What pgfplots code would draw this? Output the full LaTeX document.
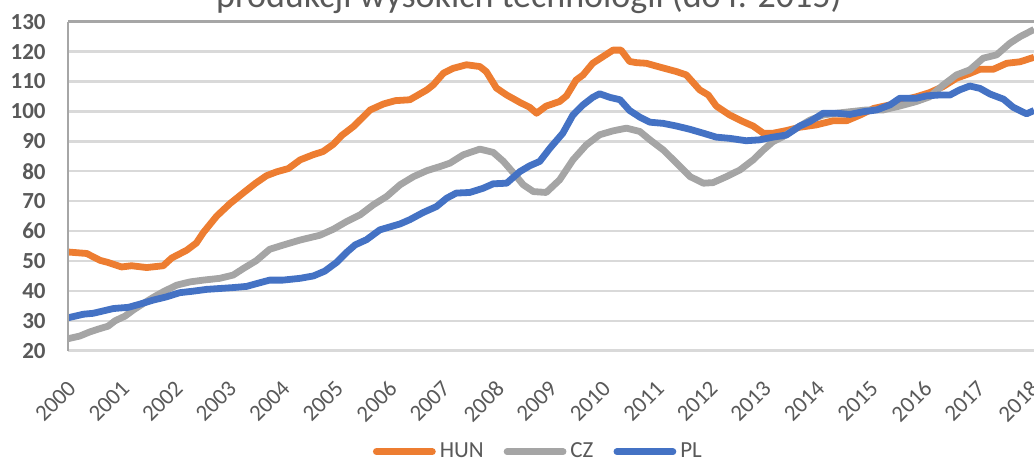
\documentclass[border=0pt]{standalone}
\usepackage{fontspec}
\setmainfont{Carlito}
\usepackage{pgfplots}
\pgfplotsset{compat=1.18}
\definecolor{hun}{HTML}{ED7D31}
\definecolor{cz}{HTML}{A5A5A5}
\definecolor{pl}{HTML}{4472C4}
\definecolor{txt}{HTML}{595959}
\definecolor{grd}{HTML}{D9D9D9}
\definecolor{axl}{HTML}{A6A6A6}
\begin{document}
\begin{tikzpicture}
\begin{axis}[
  at={(0,0)}, anchor=south west,
  scale only axis,
  width=483pt, height=164.5pt,
  xmin=2000, xmax=2018.06,
  ymin=20, ymax=130,
  ytick={20,30,...,130},
  xtick={2000,2001,...,2018},
  axis line style={draw=none},
  tick style={draw=none},
  ymajorgrids,
  grid style={color=grd, line width=1.2pt},
  /pgf/number format/assume math mode=true,
  /pgf/number format/1000 sep={},
  yticklabel style={font=\fontsize{11.5}{13}\selectfont\bfseries, text=txt, inner sep=0pt, anchor=east, xshift=-11pt},
  xticklabel style={font=\fontsize{11.5}{13}\selectfont, text=txt, xshift=-0.75pt, yshift=-14pt, rotate=45, anchor=north east, inner sep=0pt},
  legend columns=3,
  legend style={at={(0.488,-0.307)}, anchor=center, draw=none, fill=none,
    font=\fontsize{11.5}{13}\selectfont, text=txt,
    /tikz/every even column/.append style={column sep=8pt},
    inner sep=0pt},
  legend cell align=left,
  legend image code/.code={\draw[#1, line cap=round] (0pt,0pt) -- (28pt,0pt);},
  every axis plot/.append style={line width=3.4pt, line join=round},
]
\addplot[hun] coordinates {(2000.00,53.0) (2000.35,52.5) (2000.60,50.2) (2000.75,49.5) (2001.00,48.0) (2001.19,48.4) (2001.47,47.8) (2001.78,48.4) (2001.94,51.0) (2002.22,53.6) (2002.40,56.0) (2002.53,59.5) (2002.78,65.0) (2003.03,69.2) (2003.28,72.8) (2003.50,75.9) (2003.71,78.5) (2003.90,79.8) (2004.12,80.9) (2004.34,83.8) (2004.58,85.5) (2004.77,86.6) (2004.96,89.0) (2005.12,92.0) (2005.34,95.0) (2005.65,100.5) (2005.90,102.5) (2006.12,103.6) (2006.39,103.9) (2006.71,107.2) (2006.83,108.9) (2007.02,112.8) (2007.20,114.4) (2007.45,115.6) (2007.70,115.0) (2007.82,113.3) (2008.01,107.8) (2008.20,105.5) (2008.45,103.0) (2008.63,101.4) (2008.76,99.4) (2008.94,101.8) (2009.19,103.3) (2009.32,105.2) (2009.50,110.5) (2009.63,112.2) (2009.81,116.1) (2010.00,118.3) (2010.19,120.5) (2010.34,120.5) (2010.50,116.7) (2010.63,116.3) (2010.81,116.1) (2011.07,114.8) (2011.38,113.3) (2011.56,112.2) (2011.81,107.2) (2011.97,105.5) (2012.12,101.8) (2012.37,98.8) (2012.62,96.6) (2012.81,95.1) (2013.00,92.7) (2013.18,92.7) (2013.43,93.6) (2013.68,94.7) (2013.99,95.5) (2014.31,96.9) (2014.56,96.9) (2014.81,98.8) (2015.06,101.0) (2015.37,102.2) (2015.61,103.8) (2015.86,104.9) (2016.11,106.3) (2016.36,108.3) (2016.61,111.1) (2016.86,112.7) (2017.05,114.1) (2017.30,114.1) (2017.55,116.1) (2017.80,116.6) (2018.06,118.1)};
\addlegendentry{HUN}
\addplot[cz] coordinates {(2000.00,24.0) (2000.22,24.9) (2000.41,26.3) (2000.60,27.4) (2000.75,28.2) (2000.88,30.0) (2001.07,31.6) (2001.22,33.6) (2001.41,35.8) (2001.59,37.8) (2001.78,39.7) (2002.03,41.9) (2002.28,43.0) (2002.53,43.6) (2002.84,44.2) (2003.09,45.3) (2003.28,47.5) (2003.52,50.1) (2003.77,53.9) (2004.02,55.3) (2004.34,57.0) (2004.71,58.6) (2004.96,60.6) (2005.21,63.2) (2005.46,65.4) (2005.71,68.8) (2005.96,71.6) (2006.21,75.5) (2006.46,78.2) (2006.71,80.2) (2006.96,81.6) (2007.14,82.7) (2007.39,85.5) (2007.70,87.4) (2007.95,86.3) (2008.14,83.3) (2008.33,79.4) (2008.51,75.5) (2008.70,73.2) (2008.94,72.9) (2009.19,77.1) (2009.44,83.8) (2009.69,88.8) (2009.94,92.2) (2010.19,93.5) (2010.44,94.4) (2010.69,93.3) (2010.88,90.5) (2011.13,87.1) (2011.38,82.7) (2011.63,78.2) (2011.88,76.0) (2012.06,76.2) (2012.31,78.2) (2012.56,80.4) (2012.81,83.8) (2013.00,87.1) (2013.18,89.9) (2013.37,91.6) (2013.62,94.4) (2013.87,97.1) (2014.12,98.8) (2014.37,99.4) (2014.62,99.9) (2014.93,100.5) (2015.24,100.5) (2015.55,101.8) (2015.86,103.3) (2016.11,104.9) (2016.36,108.8) (2016.61,112.2) (2016.86,113.9) (2017.11,117.8) (2017.36,118.9) (2017.61,122.8) (2017.80,125.0) (2018.06,127.4)};
\addlegendentry{CZ}
\addplot[pl] coordinates {(2000.00,31.0) (2000.29,32.2) (2000.47,32.5) (2000.66,33.3) (2000.85,34.1) (2001.13,34.5) (2001.35,35.6) (2001.59,36.9) (2001.84,38.0) (2002.09,39.4) (2002.34,39.9) (2002.59,40.5) (2002.84,40.8) (2003.09,41.1) (2003.34,41.5) (2003.52,42.4) (2003.77,43.6) (2004.02,43.6) (2004.34,44.2) (2004.59,45.0) (2004.80,46.6) (2005.02,49.5) (2005.21,52.9) (2005.37,55.4) (2005.58,57.1) (2005.83,60.4) (2006.21,62.4) (2006.39,63.8) (2006.64,66.2) (2006.89,68.2) (2007.08,71.0) (2007.26,72.7) (2007.51,72.9) (2007.76,74.3) (2007.95,75.8) (2008.20,76.0) (2008.45,79.9) (2008.63,81.8) (2008.82,83.3) (2009.01,87.7) (2009.25,92.7) (2009.44,98.8) (2009.63,102.2) (2009.81,104.7) (2009.94,105.9) (2010.13,104.7) (2010.32,103.9) (2010.50,100.3) (2010.69,98.1) (2010.88,96.4) (2011.13,96.0) (2011.38,95.1) (2011.63,94.0) (2011.88,92.7) (2012.12,91.4) (2012.37,91.0) (2012.68,90.2) (2012.93,90.5) (2013.18,91.4) (2013.43,92.1) (2013.68,95.1) (2013.87,96.6) (2014.12,99.4) (2014.37,99.4) (2014.62,99.0) (2014.87,99.9) (2015.12,100.5) (2015.37,102.2) (2015.55,104.4) (2015.86,104.4) (2016.05,105.2) (2016.30,105.5) (2016.49,105.5) (2016.67,107.2) (2016.86,108.5) (2017.05,107.7) (2017.24,105.8) (2017.49,104.1) (2017.67,101.4) (2017.92,99.2) (2018.06,100.3)};
\addlegendentry{PL}
\end{axis}
\draw[axl, line width=1.2pt] (current axis.north west) -- (current axis.north east);
\draw[axl, line width=1.2pt] (current axis.south west) -- (current axis.north west);
\node[anchor=base, text=txt, font=\fontsize{18}{21}\selectfont, inner sep=0pt] at (230.5pt,171.6pt) {produkcji wysokich technologii (do r. 2015)};
\pgfresetboundingbox
\path[use as bounding box] (-34pt,-54.15pt) rectangle (483pt,175.35pt);
\end{tikzpicture}
\end{document}
